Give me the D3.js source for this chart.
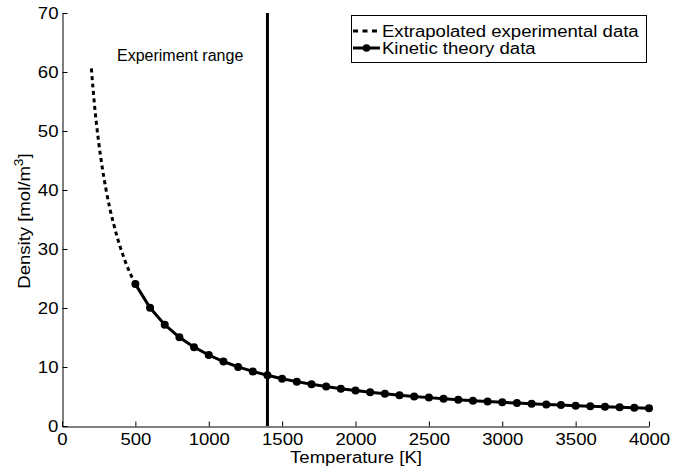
<!DOCTYPE html>
<html>
<head>
<meta charset="utf-8">
<script src="https://cdn.jsdelivr.net/npm/d3@7"></script>
<style>
  body { margin: 0; background: #fff; }
  text { font-family: "Liberation Sans", Arial, sans-serif; fill: #000; }
</style>
</head>
<body>
<svg id="chart" width="674" height="475"></svg>
<script>
// kinetic theory data (T in K, density in mol/m3)
var kinT = [500,600,700,800,900,1000,1100,1200,1300,1400,1500,1600,1700,1800,1900,2000,
            2100,2200,2300,2400,2500,2600,2700,2800,2900,3000,3100,3200,3300,3400,3500,
            3600,3700,3800,3900,4000];
var kinRho = [24.05,20.04,17.18,15.03,13.36,12.03,10.93,10.02,9.25,8.59,8.02,7.52,7.07,
              6.68,6.33,6.01,5.73,5.47,5.23,5.01,4.81,4.63,4.45,4.30,4.15,4.01,3.88,3.76,
              3.64,3.54,3.44,3.34,3.25,3.16,3.08,3.01];
// extrapolated experimental data
var expT = [200,225,250,275,300,325,350,375,400,425,450,475,500];
var expRho = [60.6,53.5,48.1,43.7,40.1,37.0,34.4,32.1,30.1,28.3,26.7,25.3,24.05];
var rangeT = 1400;
var xTicks = [0,500,1000,1500,2000,2500,3000,3500,4000];
var yTicks = [0,10,20,30,40,50,60,70];
var legendLabels = ["Extrapolated experimental data", "Kinetic theory data"];

var svg = d3.select("#chart");
// plot box (window.top is reserved, so m-prefixed names)
var mLeft = 62, mRight = 649, mTop = 13, mBottom = 426;
var sx = 1.16; // axis fonts are drawn wide

var x = d3.scaleLinear().domain([0, 4000]).range([mLeft, mRight]);
var y = d3.scaleLinear().domain([0, 70]).range([mBottom, mTop]);

// x axis
var gx = svg.append("g")
    .attr("transform", "translate(0," + (mBottom + 0.5) + ")")
    .call(d3.axisBottom(x).tickValues(xTicks).tickSize(-5).tickSizeOuter(0).tickFormat(d3.format("d")));
gx.selectAll("text").attr("dy", null).attr("y", 19)
    .attr("transform", "scale(" + sx + ",1)")
    .style("font-size", "16px").style("font-family", "Liberation Sans, Arial, sans-serif");

// y axis
var gy = svg.append("g")
    .attr("transform", "translate(" + (mLeft + 0.5) + ",0)")
    .call(d3.axisLeft(y).tickValues(yTicks).tickSize(-5).tickSizeOuter(0));
gy.selectAll("text").attr("dy", null).attr("y", 5.7).attr("x", -3.5)
    .attr("transform", "scale(" + sx + ",1)")
    .style("font-size", "16px").style("font-family", "Liberation Sans, Arial, sans-serif");

svg.selectAll(".domain, .tick line").attr("stroke", "#000").attr("stroke-width", 1);

// axis titles
svg.append("text")
    .attr("transform", "translate(356,463) scale(" + sx + ",1)")
    .attr("text-anchor", "middle")
    .style("font-size", "16px")
    .text("Temperature [K]");

var yl = svg.append("text")
    .attr("transform", "translate(29.5,221) rotate(-90) scale(" + sx + ",1)")
    .attr("text-anchor", "middle")
    .style("font-size", "16px");
yl.append("tspan").text("Density [mol/m");
yl.append("tspan").attr("dy", -7).style("font-size", "12px").text("3");
yl.append("tspan").attr("dy", 7).text("]");

// experiment range marker
svg.append("line")
    .attr("x1", x(rangeT)).attr("x2", x(rangeT))
    .attr("y1", y(70)).attr("y2", y(0))
    .attr("stroke", "#000").attr("stroke-width", 3);

svg.append("text")
    .attr("x", 117).attr("y", 61)
    .style("font-size", "16px")
    .text("Experiment range");

var line = d3.line().x(function(d){ return x(d[0]); }).y(function(d){ return y(d[1]); });

// extrapolated dotted
svg.append("path")
    .datum(d3.zip(expT, expRho))
    .attr("d", d3.line().curve(d3.curveMonotoneX).x(function(d){ return x(d[0]); }).y(function(d){ return y(d[1]); }))
    .attr("fill", "none").attr("stroke", "#000")
    .attr("stroke-width", 3).attr("stroke-dasharray", "4,3.5");

// kinetic theory
var kin = d3.zip(kinT, kinRho);
svg.append("path")
    .datum(kin)
    .attr("d", line)
    .attr("fill", "none").attr("stroke", "#000").attr("stroke-width", 3);

svg.selectAll("circle.k")
    .data(kin)
    .enter().append("circle")
    .attr("class", "k")
    .attr("cx", function(d){ return x(d[0]); })
    .attr("cy", function(d){ return y(d[1]); })
    .attr("r", 4)
    .attr("fill", "#000");

// legend
var lg = svg.append("g");
lg.append("rect")
    .attr("x", 351.5).attr("y", 15.5).attr("width", 295).attr("height", 47)
    .attr("fill", "#fff").attr("stroke", "#000").attr("stroke-width", 1);

lg.append("line")
    .attr("x1", 353).attr("x2", 380).attr("y1", 31).attr("y2", 31)
    .attr("stroke", "#000").attr("stroke-width", 3).attr("stroke-dasharray", "5,4.5");
lg.append("line")
    .attr("x1", 353).attr("x2", 380).attr("y1", 48).attr("y2", 48)
    .attr("stroke", "#000").attr("stroke-width", 3);
lg.append("circle").attr("cx", 366.5).attr("cy", 48).attr("r", 3.8).attr("fill", "#000");

lg.selectAll("text.leg")
    .data(legendLabels)
    .enter().append("text")
    .attr("class", "leg")
    .attr("transform", function(d, i){ return "translate(382," + (36.5 + i * 17) + ") scale(" + sx + ",1)"; })
    .style("font-size", "16px")
    .text(function(d){ return d; });
</script>
</body>
</html>
